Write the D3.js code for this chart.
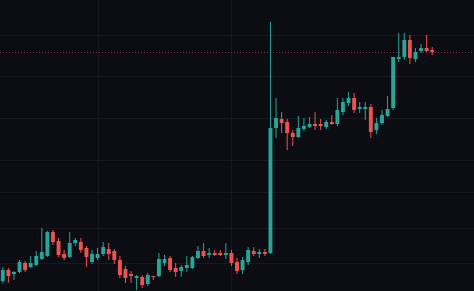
<!DOCTYPE html>
<html>
<head>
<meta charset="utf-8">
<script src="https://d3js.org/d3.v7.min.js"></script>
<style>
  html, body { margin: 0; padding: 0; background: #0c0d12; }
  svg { display: block; }
</style>
</head>
<body>
<div id="chart"></div>
<script>
// Candle data (arbitrary price units)
const open = [19, 30, 26, 28, 37, 33, 35, 41, 44, 68, 59, 46, 43, 57, 58, 52, 38, 42, 46, 51,
  49, 40, 31, 26, 22, 23, 16, 24, 24, 37, 42, 32, 29, 32, 32, 42, 49, 45, 47, 47,
  45, 47, 38, 30, 38, 49, 46, 48, 47, 172, 181, 178, 167, 163, 171, 173, 176, 176, 173, 178,
  176, 188, 197, 202, 191, 191, 193, 170, 177, 184, 192, 241, 243, 260, 241, 249, 252, 250];
const high = [33, 32, 29, 40, 39, 44, 49, 72, 69, 70, 62, 50, 68, 62, 62, 54, 50, 52, 58, 57,
  51, 44, 34, 29, 25, 25, 27, 24, 47, 45, 44, 37, 35, 44, 44, 54, 57, 52, 50, 50,
  57, 50, 42, 43, 53, 53, 51, 51, 278, 202, 188, 181, 170, 184, 182, 183, 188, 181, 180, 185,
  202, 202, 208, 207, 198, 198, 196, 182, 190, 204, 243, 267, 267, 265, 252, 256, 265, 253];
const low = [17, 17, 20, 27, 28, 32, 34, 40, 43, 55, 43, 40, 42, 54, 47, 33, 36, 40, 44, 40,
  36, 22, 17, 17, 10, 12, 14, 20, 23, 34, 28, 23, 23, 28, 31, 41, 42, 42, 44, 44,
  41, 34, 26, 26, 35, 44, 42, 44, 46, 162, 167, 150, 154, 162, 169, 172, 170, 170, 171, 175,
  174, 185, 194, 187, 187, 180, 162, 166, 175, 183, 190, 238, 240, 236, 238, 247, 248, 245];
const close = [30, 24, 28, 38, 30, 37, 44, 48, 68, 58, 45, 42, 57, 60, 50, 43, 46, 46, 53, 46,
  40, 25, 22, 24, 24, 15, 25, 23, 41, 41, 30, 28, 33, 35, 43, 49, 44, 47, 45, 45,
  47, 37, 29, 40, 50, 46, 48, 46, 172, 182, 177, 167, 163, 172, 174, 176, 174, 174, 178, 176,
  190, 198, 202, 190, 193, 193, 168, 177, 185, 191, 243, 243, 260, 242, 248, 252, 249, 248];

// grid positions
const priceGrid = [265, 224, 182, 140, 108, 72, 37];
const timeGrid = [17, 41];

const width = 474;
const height = 291;
const slots = 85; // candles + empty space on the right

const up = "#26a69a";
const down = "#ef5350";

const candles = open.map((o, i) => ({ i, o, h: high[i], l: low[i], c: close[i] }));

const x = d3.scaleBand()
  .domain(d3.range(slots))
  .range([0, width])
  .paddingInner(0.3)
  .paddingOuter(0.15);

const y = d3.scaleLinear()
  .domain([9, 300])
  .range([height, 0]);

const svg = d3.select("#chart").append("svg")
  .attr("width", width)
  .attr("height", height);

svg.append("rect")
  .attr("width", width)
  .attr("height", height)
  .attr("fill", "#0c0d12");

// grid
svg.append("g")
  .attr("stroke", "#17191f")
  .attr("shape-rendering", "crispEdges")
  .selectAll("line")
  .data(priceGrid)
  .join("line")
    .attr("x1", 0).attr("x2", width)
    .attr("y1", d => Math.round(y(d)) + 0.5)
    .attr("y2", d => Math.round(y(d)) + 0.5);

svg.append("g")
  .attr("stroke", "#17191f")
  .attr("shape-rendering", "crispEdges")
  .selectAll("line")
  .data(timeGrid)
  .join("line")
    .attr("y1", 0).attr("y2", height)
    .attr("x1", d => Math.round(x(d) + x.bandwidth() / 2) + 0.5)
    .attr("x2", d => Math.round(x(d) + x.bandwidth() / 2) + 0.5);

// last price line
const last = candles[candles.length - 1];
svg.append("line")
  .attr("x1", 0).attr("x2", width)
  .attr("y1", Math.round(y(last.c)) + 0.5)
  .attr("y2", Math.round(y(last.c)) + 0.5)
  .attr("stroke", last.c >= last.o ? up : down)
  .attr("stroke-opacity", 0.55)
  .attr("stroke-dasharray", "1,2");

// candles
const g = svg.append("g")
  .selectAll("g")
  .data(candles)
  .join("g")
    .attr("fill", d => d.c >= d.o ? up : down)
    .attr("stroke", d => d.c >= d.o ? up : down);

g.append("line")
  .attr("x1", d => x(d.i) + x.bandwidth() / 2)
  .attr("x2", d => x(d.i) + x.bandwidth() / 2)
  .attr("y1", d => y(d.h))
  .attr("y2", d => y(d.l))
  .attr("stroke-width", 1);

g.append("rect")
  .attr("stroke", "none")
  .attr("x", d => x(d.i))
  .attr("width", x.bandwidth())
  .attr("y", d => y(Math.max(d.o, d.c)))
  .attr("height", d => Math.max(1, Math.abs(y(d.o) - y(d.c))));
</script>
</body>
</html>
